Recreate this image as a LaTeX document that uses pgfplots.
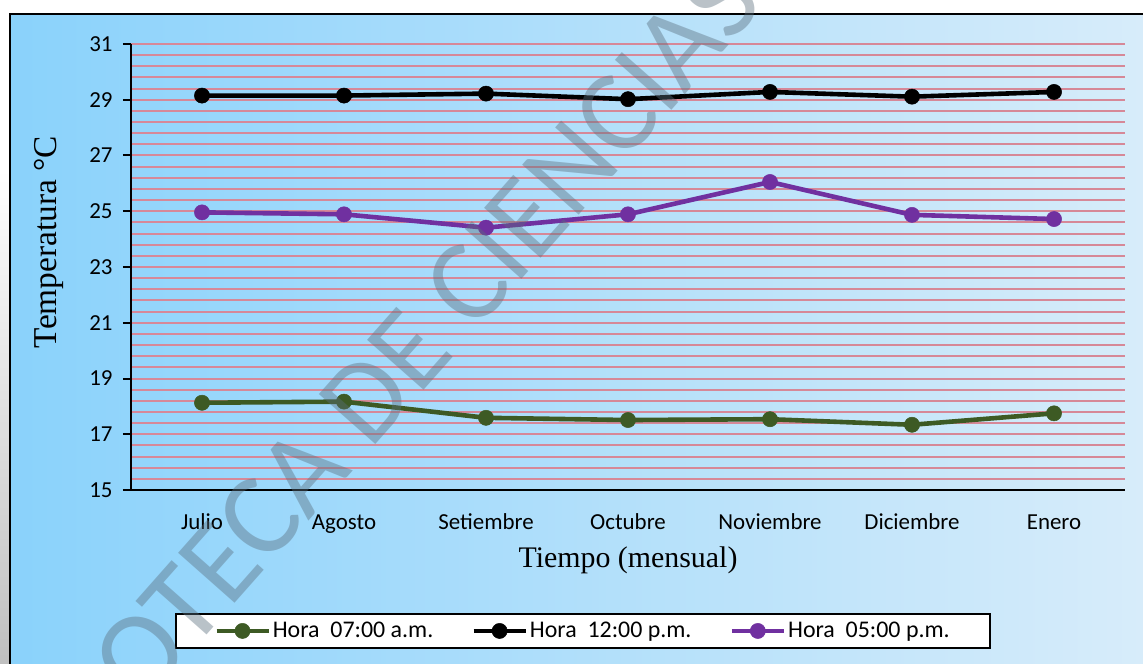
\documentclass[border=0pt]{standalone}
\usepackage{pgfplots}
\pgfplotsset{compat=1.18}
\usepackage{fontspec}
\setmainfont{Liberation Serif}
\newfontfamily\calibri{Carlito}

\definecolor{bgL}{RGB}{138,210,251}
\definecolor{bgR}{RGB}{215,236,250}
\definecolor{gridc}{RGB}{214,136,152}
\definecolor{verde}{RGB}{61,90,36}
\definecolor{morado}{RGB}{112,48,160}

\begin{document}
\begin{tikzpicture}[x=1bp,y=1bp]
% page frame in pixel-like units, origin top left, y downwards
\begin{scope}[shift={(-131bp,490bp)}, yscale=-1]
\shade[top color=white, bottom color=black!25] (0,170) rectangle (10,664);
\shade[left color=bgL, right color=bgR] (10,14.3) rectangle (1143,664);
\draw[line width=2.2bp] (10,700) -- (10,14.3) -- (1160,14.3);
\end{scope}

\begin{axis}[
  at={(0,0)}, anchor=south west,
  width=994bp, height=446bp, scale only axis,
  xmin=-0.5, xmax=6.5, ymin=15, ymax=31,
  axis x line*=bottom, axis y line*=left,
  axis line style={line width=2bp, black, -},
  xtick={0,1,2,3,4,5,6},
  xticklabels={Julio,Agosto,Setiembre,Octubre,Noviembre,Diciembre,Enero},
  x tick style={draw=none},
  ytick={15,17,...,31}, minor y tick num=4,
  ymajorgrids, yminorgrids,
  major grid style={gridc, line width=2bp},
  minor grid style={gridc, line width=2bp},
  y tick style={black, line width=2bp},
  tick align=outside, major tick length=8bp, minor tick length=0bp,
  tick label style={font=\calibri\fontsize{23}{23}\selectfont},
  /pgf/number format/assume math mode=true,
  xticklabel style={yshift=-12bp, text height=16bp, text depth=5bp},
  yticklabel style={xshift=-7bp},
  xlabel={Tiempo (mensual)},
  ylabel={Temperatura °C},
  xlabel style={font=\fontsize{30}{30}\selectfont,
    at={(axis description cs:0.5,-0.157)}, anchor=center},
  ylabel style={font=\fontsize{33.5}{33.5}\selectfont,
    at={(axis description cs:-0.0825,0.556)}, anchor=center},
  legend columns=3,
  legend style={at={(axis description cs:0.4547,-0.316)}, anchor=center,
    draw=black, line width=1.8bp, fill=white,
    font=\calibri\fontsize{24}{24}\selectfont,
    inner xsep=38bp, inner ysep=6.5bp,
    /tikz/every even column/.append style={column sep=36bp}},
  legend cell align=left,
  legend image code/.code={%
    \draw[mark repeat=2, mark phase=2, #1]
      plot coordinates {(0bp,0bp) (26bp,0bp) (52bp,0bp)};},
  every axis plot/.append style={line width=4.6bp, mark=*, mark size=7.6bp},
]
\addplot[verde, mark options={fill=verde, draw=verde, line width=0.5bp}]
  coordinates {(0,18.13) (1,18.17) (2,17.59) (3,17.51) (4,17.54) (5,17.34) (6,17.75)};
\addlegendentry{Hora~ 07:00 a.m.}
\addplot[black, mark options={fill=black, draw=black, line width=0.5bp}]
  coordinates {(0,29.15) (1,29.15) (2,29.22) (3,29.02) (4,29.28) (5,29.11) (6,29.28)};
\addlegendentry{Hora~ 12:00 p.m.}
\addplot[morado, mark options={fill=morado, draw=morado, line width=0.5bp}]
  coordinates {(0,24.96) (1,24.89) (2,24.41) (3,24.89) (4,26.05) (5,24.87) (6,24.72)};
\addlegendentry{Hora~ 05:00 p.m.}
\end{axis}

% library stamp across the page
\begin{scope}[shift={(-131bp,490bp)}, yscale=-1]
\node[rotate=48.5, anchor=west, inner sep=0pt, text={rgb,255:red,90;green,110;blue,125}, opacity=0.42,
  font=\calibri\fontsize{118}{118}\selectfont] at (-43,861) {BIBLIOTECA DE CIENCIAS};
\end{scope}

% page size
\pgfresetboundingbox
\begin{scope}[shift={(-131bp,490bp)}, yscale=-1]
\useasboundingbox (0,0) rectangle (1143,664);
\end{scope}
\end{tikzpicture}
\end{document}
